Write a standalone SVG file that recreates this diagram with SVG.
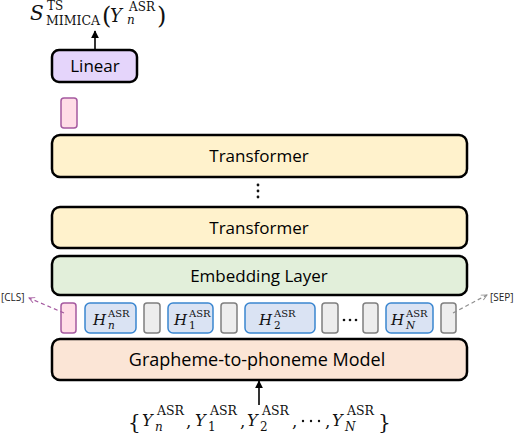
<svg xmlns="http://www.w3.org/2000/svg" width="520" height="439" viewBox="0 0 520 439">
<defs>
<style>
.box{stroke:#000;stroke-width:2.5}
.lbl{font-family:"Open Sans","Noto Sans",sans-serif;fill:#000;text-anchor:middle}
.tok-h{fill:#DAE3F3;stroke:#3A86D0;stroke-width:1.5}
.tok-g{fill:#EDEDED;stroke:#7F7F7F;stroke-width:1.5}
.tok-p{fill:#FFDDE6;stroke:#A55AA0;stroke-width:1.5}
.m{font-family:"DejaVu Serif","Liberation Serif",serif;fill:#111}
.mi{font-style:italic}
.small{font-family:"Open Sans","Noto Sans",sans-serif;font-size:10px;fill:#222}
</style>
<marker id="ah" viewBox="0 0 10 10" refX="9" refY="5" markerWidth="5" markerHeight="5" orient="auto"><path d="M0,0 L10,5 L0,10 z" fill="#000"/></marker>
<marker id="ahp" viewBox="0 0 10 10" refX="9" refY="5" markerWidth="7" markerHeight="7" orient="auto" markerUnits="userSpaceOnUse"><path d="M1,1 L9,5 L1,9" fill="none" stroke="#A55AA0" stroke-width="1.3"/></marker>
<marker id="ahg" viewBox="0 0 10 10" refX="9" refY="5" markerWidth="7" markerHeight="7" orient="auto" markerUnits="userSpaceOnUse"><path d="M1,1 L9,5 L1,9" fill="none" stroke="#8F8F8F" stroke-width="1.3"/></marker>
</defs>
<rect width="520" height="439" fill="#fff"/>

<g id="title">
<text class="m mi" x="30" y="20" font-size="20">S</text>
<text class="m" x="47" y="10" font-size="12">TS</text>
<text class="m" x="46" y="25" font-size="12.5">MIMICA</text>
<text class="m" x="102" y="24" font-size="24">(</text>
<text class="m mi" x="110" y="22" font-size="18">Y</text>
<text class="m" x="129" y="11" font-size="12">ASR</text>
<text class="m mi" x="127" y="24" font-size="12">n</text>
<text class="m" x="157" y="24" font-size="24">)</text>
</g>

<g id="linear">
<rect class="box" x="52" y="50" width="85" height="32" rx="7" fill="#E5D5FB"/>
<text class="lbl" x="95" y="72" font-size="17">Linear</text>
</g>

<g id="cls-out">
<rect class="tok-p" x="61" y="98" width="16" height="30" rx="3"/>
</g>

<g id="transformer-top">
<rect class="box" x="52" y="135" width="415" height="42" rx="8" fill="#FFF2CC"/>
<text class="lbl" x="259" y="162" font-size="17">Transformer</text>
</g>

<g id="vdots">
<circle cx="258" cy="185" r="1.4" fill="#111"/>
<circle cx="258" cy="191" r="1.4" fill="#111"/>
<circle cx="258" cy="197" r="1.4" fill="#111"/>
</g>

<g id="transformer-bottom">
<rect class="box" x="52" y="207" width="415" height="41" rx="8" fill="#FFF2CC"/>
<text class="lbl" x="259" y="234" font-size="17">Transformer</text>
</g>

<g id="embedding">
<rect class="box" x="52" y="256" width="415" height="39" rx="8" fill="#E2EFDA"/>
<text class="lbl" x="259" y="282" font-size="17">Embedding Layer</text>
</g>

<g id="tokens">
<rect class="tok-p" x="61" y="303" width="15" height="30" rx="3"/>
<rect class="tok-h" x="85" y="303" width="51" height="30" rx="5"/>
<text class="m mi" x="93" y="325" font-size="15">H</text>
<text class="m" x="108" y="317" font-size="10">ASR</text>
<text class="m mi" x="108" y="329" font-size="10.5">n</text>
<rect class="tok-g" x="144" y="303" width="16" height="30" rx="3"/>
<rect class="tok-h" x="168" y="303" width="45" height="30" rx="5"/>
<text class="m mi" x="174" y="325" font-size="15">H</text>
<text class="m" x="189" y="317" font-size="10">ASR</text>
<text class="m" x="189" y="329" font-size="10.5">1</text>
<rect class="tok-g" x="221" y="303" width="16" height="30" rx="3"/>
<rect class="tok-h" x="245" y="303" width="70" height="30" rx="5"/>
<text class="m mi" x="259" y="325" font-size="15">H</text>
<text class="m" x="274" y="317" font-size="10">ASR</text>
<text class="m" x="274" y="329" font-size="10.5">2</text>
<rect class="tok-g" x="322" y="303" width="16" height="30" rx="3"/>
<circle cx="344" cy="320" r="1.3" fill="#111"/>
<circle cx="350" cy="320" r="1.3" fill="#111"/>
<circle cx="356" cy="320" r="1.3" fill="#111"/>
<rect class="tok-g" x="363" y="303" width="15" height="30" rx="3"/>
<rect class="tok-h" x="386" y="303" width="47" height="30" rx="5"/>
<text class="m mi" x="391" y="325" font-size="15">H</text>
<text class="m" x="406" y="317" font-size="10">ASR</text>
<text class="m mi" x="406" y="329" font-size="10.5">N</text>
<rect class="tok-g" x="441" y="303" width="15" height="30" rx="3"/>
</g>

<g id="cls-label"><text class="small" x="1" y="301">[CLS]</text></g>
<g id="sep-label"><text class="small" x="490" y="301">[SEP]</text></g>

<g id="g2p">
<rect class="box" x="52" y="339" width="415" height="41" rx="8" fill="#FBE5D6"/>
<text class="lbl" x="257" y="366" font-size="18">Grapheme-to-phoneme Model</text>
</g>

<g id="input">
<text class="m" x="128" y="429" font-size="20">{</text>
<text class="m mi" x="142" y="426" font-size="16">Y</text>
<text class="m" x="157" y="415" font-size="12.5">ASR</text>
<text class="m mi" x="155" y="431" font-size="12">n</text>
<text class="m" x="186" y="427" font-size="17">,</text>
<text class="m mi" x="195" y="426" font-size="16">Y</text>
<text class="m" x="210" y="415" font-size="12.5">ASR</text>
<text class="m" x="208" y="431" font-size="12">1</text>
<text class="m" x="240" y="427" font-size="17">,</text>
<text class="m mi" x="247" y="426" font-size="16">Y</text>
<text class="m" x="262" y="415" font-size="12.5">ASR</text>
<text class="m" x="260" y="431" font-size="12">2</text>
<text class="m" x="292" y="427" font-size="17">,</text>
<circle cx="303" cy="421" r="1.2" fill="#111"/>
<circle cx="311" cy="421" r="1.2" fill="#111"/>
<circle cx="319" cy="421" r="1.2" fill="#111"/>
<text class="m" x="325" y="427" font-size="17">,</text>
<text class="m mi" x="332" y="426" font-size="16">Y</text>
<text class="m" x="347" y="415" font-size="12.5">ASR</text>
<text class="m mi" x="345" y="431" font-size="12">N</text>
<text class="m" x="378" y="429" font-size="20">}</text>
</g>

<g id="connectors" fill="none">
<line x1="95" y1="50" x2="95" y2="31" stroke="#000" stroke-width="1.6" marker-end="url(#ah)"/>
<line x1="259" y1="405" x2="259" y2="381" stroke="#000" stroke-width="1.6" marker-end="url(#ah)"/>
<line x1="64" y1="313" x2="29" y2="298" stroke="#A55AA0" stroke-width="1.2" stroke-dasharray="4 3" marker-end="url(#ahp)"/>
<line x1="453" y1="313" x2="487" y2="295" stroke="#8F8F8F" stroke-width="1.2" stroke-dasharray="4 3" marker-end="url(#ahg)"/>
</g>
</svg>
